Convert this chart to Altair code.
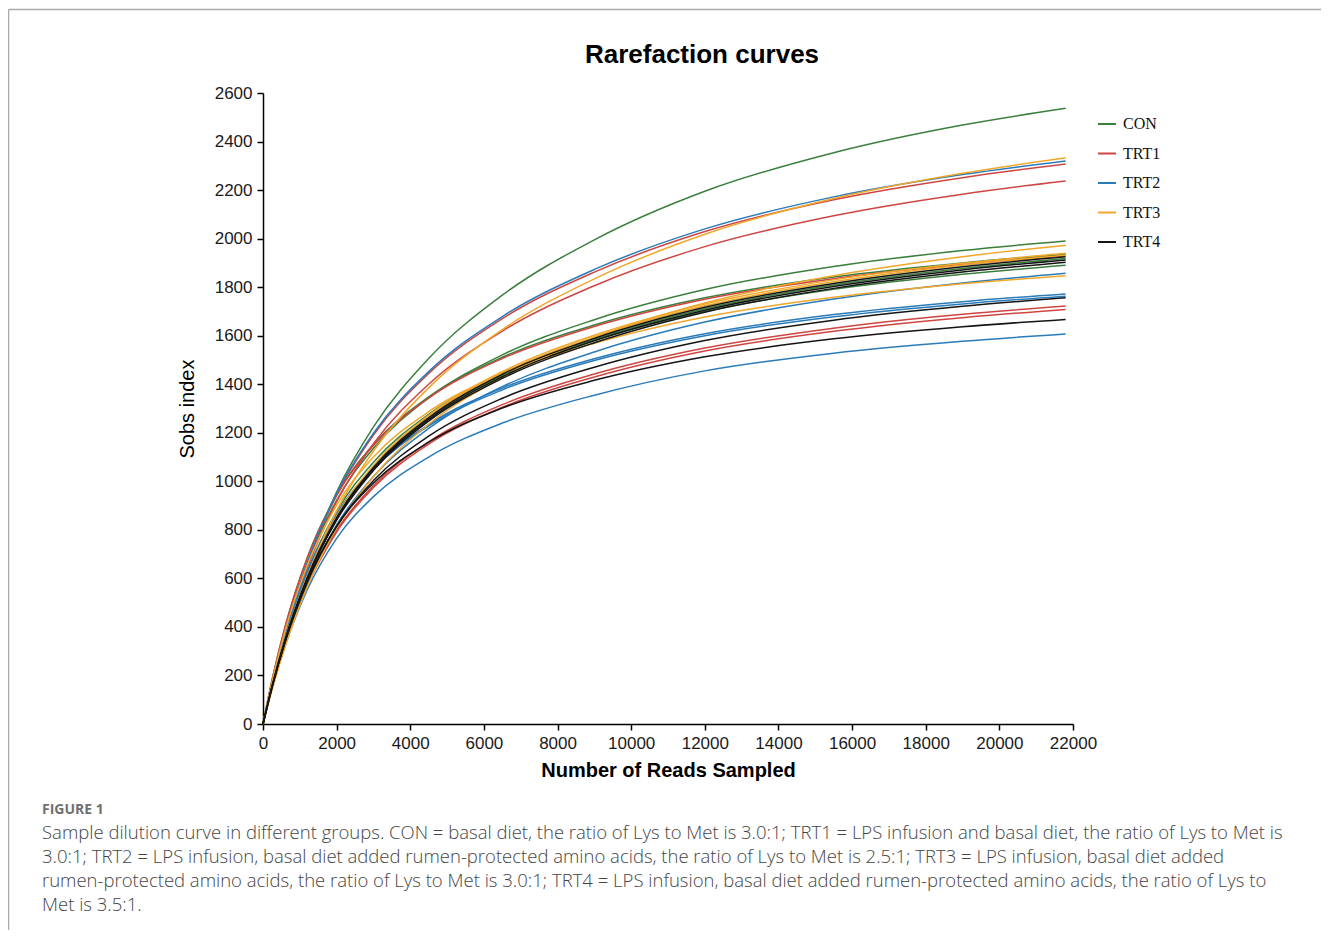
import altair as alt
import pandas as pd

READS = [0, 250, 600, 1200, 2000, 3000, 4500, 6500, 9000, 12000, 15500, 19000, 21800]

CON = [
    [0, 163, 367, 658, 956, 1224, 1506, 1767, 1995, 2195, 2354, 2468, 2537],
    [0, 174, 382, 660, 922, 1136, 1344, 1521, 1666, 1790, 1885, 1951, 1990],
    [0, 185, 401, 685, 945, 1152, 1348, 1511, 1644, 1756, 1842, 1900, 1935],
    [0, 166, 363, 627, 876, 1079, 1276, 1444, 1582, 1700, 1791, 1853, 1890],
    [0, 156, 344, 600, 847, 1053, 1258, 1436, 1584, 1711, 1809, 1877, 1918],
]
TRT1 = [
    [0, 167, 373, 660, 944, 1191, 1444, 1670, 1862, 2029, 2160, 2251, 2307],
    [0, 162, 361, 640, 916, 1155, 1400, 1619, 1806, 1967, 2094, 2183, 2237],
    [0, 184, 400, 682, 941, 1148, 1343, 1506, 1638, 1750, 1835, 1893, 1928],
    [0, 151, 331, 571, 798, 983, 1163, 1316, 1442, 1549, 1631, 1688, 1722],
    [0, 150, 328, 567, 791, 975, 1153, 1305, 1430, 1537, 1618, 1674, 1708],
]
TRT2 = [
    [0, 168, 375, 663, 950, 1198, 1452, 1679, 1873, 2040, 2172, 2264, 2320],
    [0, 151, 333, 581, 820, 1020, 1218, 1390, 1533, 1656, 1751, 1817, 1857],
    [0, 169, 368, 627, 865, 1055, 1234, 1384, 1505, 1608, 1687, 1740, 1772],
    [0, 168, 366, 624, 861, 1050, 1228, 1377, 1498, 1600, 1678, 1731, 1763],
    [0, 148, 322, 552, 765, 937, 1100, 1240, 1355, 1455, 1528, 1577, 1607],
]
TRT3 = [
    [0, 150, 337, 605, 879, 1125, 1385, 1625, 1834, 2018, 2165, 2269, 2333],
    [0, 143, 319, 564, 808, 1019, 1235, 1428, 1593, 1735, 1847, 1925, 1973],
    [0, 158, 348, 607, 856, 1065, 1272, 1452, 1602, 1730, 1830, 1898, 1940],
    [0, 157, 347, 604, 853, 1061, 1267, 1446, 1595, 1723, 1822, 1891, 1932],
    [0, 176, 383, 653, 902, 1100, 1287, 1443, 1569, 1677, 1758, 1814, 1847],
]
TRT4 = [
    [0, 156, 345, 602, 850, 1057, 1262, 1441, 1589, 1717, 1815, 1884, 1925],
    [0, 155, 343, 598, 844, 1050, 1254, 1431, 1579, 1705, 1803, 1871, 1912],
    [0, 155, 341, 595, 840, 1045, 1248, 1424, 1571, 1697, 1795, 1862, 1903],
    [0, 154, 337, 583, 814, 1003, 1186, 1342, 1470, 1580, 1664, 1721, 1756],
    [0, 159, 346, 590, 814, 993, 1161, 1302, 1416, 1513, 1587, 1637, 1667],
]

GROUPS = ["CON", "TRT1", "TRT2", "TRT3", "TRT4"]
COLORS = ["#3b7f3d", "#cf4541", "#2a7bba", "#f0a72a", "#151515"]
SERIES = {"CON": CON, "TRT1": TRT1, "TRT2": TRT2, "TRT3": TRT3, "TRT4": TRT4}

TITLE = "Rarefaction curves"
X_TITLE = "Number of Reads Sampled"
Y_TITLE = "Sobs index"
FIG_LABEL = "FIGURE 1"
CAPTION = [
    "Sample dilution curve in different groups. CON = basal diet, the ratio of Lys to Met is 3.0:1; TRT1 = LPS infusion and basal diet, the ratio of Lys to Met is",
    "3.0:1; TRT2 = LPS infusion, basal diet added rumen-protected amino acids, the ratio of Lys to Met is 2.5:1; TRT3 = LPS infusion, basal diet added",
    "rumen-protected amino acids, the ratio of Lys to Met is 3.0:1; TRT4 = LPS infusion, basal diet added rumen-protected amino acids, the ratio of Lys to",
    "Met is 3.5:1.",
]

rows = []
for g in GROUPS:
    for i, curve in enumerate(SERIES[g]):
        for r, v in zip(READS, curve):
            rows.append({"group": g, "sample": f"{g}_{i+1}", "reads": r, "sobs": v})
df = pd.DataFrame(rows)

W, H = 810, 631

lines = alt.Chart(df).mark_line(strokeWidth=1.5, interpolate="monotone").encode(
    x=alt.X("reads:Q", scale=alt.Scale(domain=[0, 22000], nice=False),
            axis=alt.Axis(values=list(range(0, 22001, 2000)), title=X_TITLE,
                          titleFontWeight="bold", titleFontSize=20, titlePadding=9,
                          labelPadding=5, format="d")),
    y=alt.Y("sobs:Q", scale=alt.Scale(domain=[0, 2600], nice=False),
            axis=alt.Axis(values=list(range(0, 2601, 200)), title=Y_TITLE,
                          titleFontWeight="normal", titleFontSize=20, titlePadding=17,
                          labelPadding=5, format="d")),
    color=alt.Color("group:N", scale=alt.Scale(domain=GROUPS, range=COLORS),
                    legend=alt.Legend(title=None, orient="none", legendX=834, legendY=21,
                                      symbolType="stroke", symbolSize=324,
                                      symbolStrokeWidth=2, labelFont="Liberation Serif",
                                      labelFontSize=16, labelColor="#111111",
                                      labelOffset=6, rowPadding=11.5, padding=0)),
    detail="sample:N",
)

one = pd.DataFrame({"a": [0]})

title_txt = alt.Chart(one).mark_text(
    font="Liberation Sans", fontSize=26, fontWeight="bold", align="center",
    baseline="alphabetic", color="#000000"
).encode(x=alt.value(439), y=alt.value(-30), text=alt.value(TITLE))

fig_txt = alt.Chart(one).mark_text(
    font="Open Sans", fontSize=14, fontWeight="bold", align="left",
    baseline="middle", color="#707070"
).encode(x=alt.value(-221), y=alt.value(717), text=alt.value(FIG_LABEL))

cap_txt = alt.Chart(one).mark_text(
    font="Open Sans", fontSize=18.5, fontWeight=300, align="left", baseline="middle",
    color="#454545", lineBreak="\n", lineHeight=24
).encode(x=alt.value(-221), y=alt.value(740), text=alt.value("\n".join(CAPTION)))

frame_top = alt.Chart(one).mark_rule(color="#a9a9a9", strokeWidth=1.5).encode(
    x=alt.value(-254.5), x2=alt.value(1060), y=alt.value(-83.5))
frame_left = alt.Chart(one).mark_rule(color="#a9a9a9", strokeWidth=1.5).encode(
    x=alt.value(-254.5), y=alt.value(-83.5), y2=alt.value(840))

chart = alt.layer(frame_top, frame_left, lines, title_txt, fig_txt, cap_txt).properties(
    width=W, height=H,
    autosize=alt.AutoSizeParams(type="none"),
    padding={"left": 255, "top": 85, "right": 248, "bottom": 206},
).configure_view(stroke=None).configure_axis(
    domainColor="#000000", domainWidth=1.5, tickColor="#000000", tickWidth=1.5,
    tickSize=6, labelFont="Liberation Sans", labelFontSize=17, labelColor="#1a1a1a",
    titleFont="Liberation Sans", titleColor="#000000", grid=False, labelFlush=False
)

chart.save("out.html", embed_options={"renderer": "svg", "actions": False})
